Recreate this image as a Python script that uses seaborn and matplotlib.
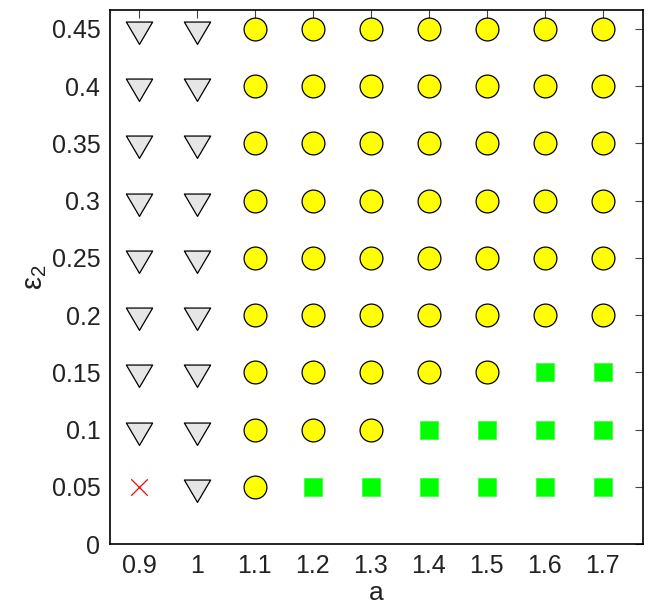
import numpy as np
import pandas as pd
import matplotlib
matplotlib.use("Agg")
import matplotlib.pyplot as plt
from matplotlib.path import Path
import seaborn as sns

# parameter grid
a_values = [0.9, 1.0, 1.1, 1.2, 1.3, 1.4, 1.5, 1.6, 1.7]
eps2_values = [0.05, 0.10, 0.15, 0.20, 0.25, 0.30, 0.35, 0.40, 0.45]

# outcome class for each column of the grid (bottom to top in eps2)
outcome_by_a = {
    0.9: ["cross"] + ["triangle"] * 8,
    1.0: ["triangle"] * 9,
    1.1: ["circle"] * 9,
    1.2: ["square"] + ["circle"] * 8,
    1.3: ["square"] + ["circle"] * 8,
    1.4: ["square"] * 2 + ["circle"] * 7,
    1.5: ["square"] * 2 + ["circle"] * 7,
    1.6: ["square"] * 3 + ["circle"] * 6,
    1.7: ["square"] * 3 + ["circle"] * 6,
}

x_ticks = [0.9, 1.0, 1.1, 1.2, 1.3, 1.4, 1.5, 1.6, 1.7]
x_ticklabels = ["0.9", "1", "1.1", "1.2", "1.3", "1.4", "1.5", "1.6", "1.7"]
y_ticks = [0, 0.05, 0.1, 0.15, 0.2, 0.25, 0.3, 0.35, 0.4, 0.45]
y_ticklabels = ["0", "0.05", "0.1", "0.15", "0.2", "0.25", "0.3", "0.35", "0.4", "0.45"]

rows = []
for a in a_values:
    for e, kind in zip(eps2_values, outcome_by_a[a]):
        rows.append({"a": a, "eps2": e, "kind": kind})
df = pd.DataFrame(rows)

sns.set_theme(style="white")
plt.rcParams["font.family"] = ["Liberation Sans", "DejaVu Sans"]
plt.rcParams["mathtext.fontset"] = "custom"
plt.rcParams["mathtext.rm"] = "Liberation Sans"
plt.rcParams["mathtext.it"] = "Liberation Sans:italic"

fig = plt.figure(figsize=(6.55, 6.04), dpi=100)
ax = fig.add_axes([0.168, 0.0993, 0.814, 0.884])

# downward triangle, centred on its centroid, a bit wider than tall
tri = Path([(-1.0, 0.567), (1.0, 0.567), (0.0, -1.133), (-1.0, 0.567)],
           [Path.MOVETO, Path.LINETO, Path.LINETO, Path.CLOSEPOLY])

styles = {
    "triangle": dict(marker=tri, s=460, color="#e6e6e6", edgecolor="black", linewidth=0.9),
    "circle": dict(marker="o", s=270, color="#ffff00", edgecolor="black", linewidth=0.9),
    "square": dict(marker="s", s=185, color="#00ff00", edgecolor="#40ff40", linewidth=0.6),
    "cross": dict(marker="x", s=140, color="#ff0000", linewidth=0.9),
}
for kind, kw in styles.items():
    sub = df[df["kind"] == kind]
    sns.scatterplot(data=sub, x="a", y="eps2", ax=ax, legend=False, zorder=3, **kw)

ax.set_xlim(0.85, 1.77)
ax.set_ylim(0, 0.4665)
ax.set_xticks(x_ticks)
ax.set_xticklabels(x_ticklabels)
ax.set_yticks(y_ticks)
ax.set_yticklabels(y_ticklabels)
ax.tick_params(direction="in", length=6, width=0.8, labelsize=18, colors="#444444",
               top=True, right=True, pad=7)
ax.tick_params(labelcolor="#222222")
for sp in ax.spines.values():
    sp.set_visible(True)
    sp.set_color("black")
    sp.set_linewidth(1.2)

ax.set_xlabel("a", fontsize=19, labelpad=2, color="#222222")
ax.set_ylabel(r"$\mathregular{ε_2}$", fontsize=21, labelpad=2, color="#222222")

fig.savefig("out.png", dpi=100)
